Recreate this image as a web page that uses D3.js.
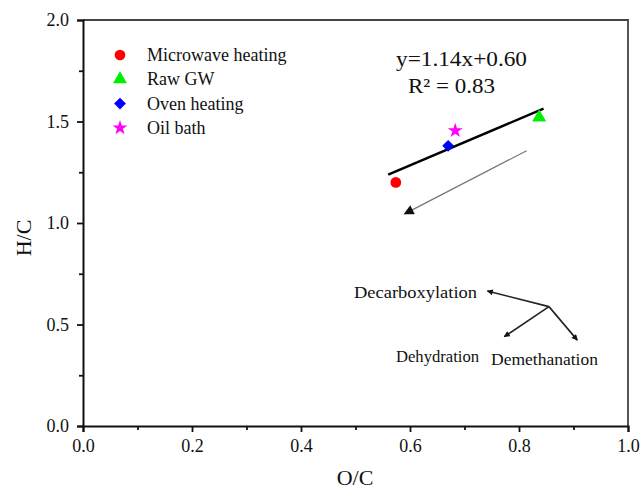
<!DOCTYPE html>
<html>
<head>
<meta charset="utf-8">
<script src="https://cdn.jsdelivr.net/npm/d3@7"></script>
<style>
  body { margin: 0; background: #fff; }
  svg text { font-family: "Liberation Serif", "DejaVu Serif", serif; fill: #111; }
</style>
</head>
<body>
<svg id="chart" width="642" height="496"></svg>
<script>
// samples (O/C, H/C)
var sampleNames = ["Microwave heating", "Raw GW", "Oven heating", "Oil bath"];
var sampleOC = [0.574, 0.837, 0.670, 0.683];
var sampleHC = [1.20, 1.52, 1.38, 1.455];
var sampleColors = ["#ff0000", "#00ee00", "#0000ff", "#ff00ff"];

// linear fit
var fitSlope = 1.14, fitIntercept = 0.60;
var fitRange = [0.56, 0.845];

// trend arrow (from, to)
var trendOC = [0.814, 0.59];
var trendHC = [1.356, 1.045];

// reaction arrows: centre and three ends
var reactCenter = [0.855, 0.588];
var reactEnds = [[0.742, 0.665], [0.773, 0.44], [0.907, 0.423]];

var xTicks = [0, 0.2, 0.4, 0.6, 0.8, 1.0];
var yTicks = [0, 0.5, 1.0, 1.5, 2.0];

var serif = "Liberation Serif";
var svg = d3.select("#chart").attr("font-family", serif);
var mLeft = 83, mRight = 628, mTop = 20, mBottom = 426;

var x = d3.scaleLinear().domain([0, 1]).range([mLeft, mRight]);
var y = d3.scaleLinear().domain([0, 2]).range([mBottom, mTop]);

// symbol generators; diamond = square turned 45deg
var shapes = [
  { type: d3.symbolCircle, size: 90, rot: 0 },
  { type: d3.symbolTriangle, size: 85, rot: 0 },
  { type: d3.symbolSquare, size: 70, rot: 45 },
  { type: d3.symbolStar, size: 70, rot: 0 }
];
function drawSymbol(g, i, cx, cy) {
  g.append("path")
    .attr("d", d3.symbol().type(shapes[i].type).size(shapes[i].size)())
    .attr("transform", "translate(" + cx + "," + cy + ") rotate(" + shapes[i].rot + ")")
    .attr("fill", sampleColors[i]);
}
function label(g, tx, ty, size, str) {
  return g.append("text").attr("x", tx).attr("y", ty)
    .attr("font-family", serif).attr("font-size", size).text(str);
}

var defs = svg.append("defs");
defs.append("marker")
  .attr("id", "head").attr("viewBox", "0 0 10 10")
  .attr("refX", 9).attr("refY", 5)
  .attr("markerWidth", 7).attr("markerHeight", 6)
  .attr("markerUnits", "userSpaceOnUse")
  .attr("orient", "auto")
  .append("path").attr("d", "M0,0 L10,5 L0,10 Z").attr("fill", "#111");
defs.append("marker")
  .attr("id", "bighead").attr("viewBox", "0 0 10 10")
  .attr("refX", 9).attr("refY", 5)
  .attr("markerWidth", 12).attr("markerHeight", 10)
  .attr("markerUnits", "userSpaceOnUse")
  .attr("orient", "auto")
  .append("path").attr("d", "M0,0 L10,5 L0,10 Z").attr("fill", "#111");

// frame top/right
svg.append("path")
  .attr("d", "M" + mLeft + "," + mTop + "H" + mRight + "V" + mBottom)
  .attr("fill", "none").attr("stroke", "#444").attr("stroke-width", 1.8);

// axes
var xAxis = svg.append("g").attr("transform", "translate(0," + mBottom + ")")
  .call(d3.axisBottom(x).tickValues(xTicks).tickFormat(d3.format(".1f")).tickSize(6).tickPadding(7));
var xMinor = svg.append("g").attr("transform", "translate(0," + mBottom + ")")
  .call(d3.axisBottom(x).tickValues([0.1, 0.3, 0.5, 0.7, 0.9]).tickFormat("").tickSize(4));
var yAxis = svg.append("g").attr("transform", "translate(" + mLeft + ",0)")
  .call(d3.axisLeft(y).tickValues(yTicks).tickFormat(d3.format(".1f")).tickSize(6).tickPadding(8));
var yMinor = svg.append("g").attr("transform", "translate(" + mLeft + ",0)")
  .call(d3.axisLeft(y).tickValues([0.25, 0.75, 1.25, 1.75]).tickFormat("").tickSize(4));

[xAxis, xMinor, yAxis, yMinor].forEach(function(g) {
  g.attr("font-family", serif);
  g.select(".domain").attr("stroke", "#111").attr("stroke-width", 2);
  g.selectAll(".tick line").attr("stroke", "#111").attr("stroke-width", 1.8);
  g.selectAll(".tick text").attr("font-size", 18).attr("font-family", serif).attr("fill", "#111");
});
xMinor.select(".domain").remove();
yMinor.select(".domain").remove();

// axis titles
label(svg, 355, 485, 22, "O/C").attr("text-anchor", "middle");
svg.append("text").attr("transform", "translate(31,238) rotate(-90)")
  .attr("text-anchor", "middle").attr("font-family", serif).attr("font-size", 22).text("H/C");

// fit line
svg.append("line")
  .attr("x1", x(fitRange[0])).attr("y1", y(fitSlope * fitRange[0] + fitIntercept))
  .attr("x2", x(fitRange[1])).attr("y2", y(fitSlope * fitRange[1] + fitIntercept))
  .attr("stroke", "#000").attr("stroke-width", 2.5);

label(svg, 396, 66, 21, "y=" + fitSlope.toFixed(2) + "x+" + fitIntercept.toFixed(2))
  .attr("textLength", 131).attr("lengthAdjust", "spacingAndGlyphs");
label(svg, 408, 93, 21, "R\u00b2 = 0.83")
  .attr("textLength", 87).attr("lengthAdjust", "spacingAndGlyphs");

// trend arrow
svg.append("line")
  .attr("x1", x(trendOC[0])).attr("y1", y(trendHC[0]))
  .attr("x2", x(trendOC[1])).attr("y2", y(trendHC[1]))
  .attr("stroke", "#777").attr("stroke-width", 1.3)
  .attr("marker-end", "url(#bighead)");

// reaction arrows
reactEnds.forEach(function(e) {
  svg.append("line")
    .attr("x1", x(reactCenter[0])).attr("y1", y(reactCenter[1]))
    .attr("x2", x(e[0])).attr("y2", y(e[1]))
    .attr("stroke", "#222").attr("stroke-width", 1.6)
    .attr("marker-end", "url(#head)");
});
label(svg, 354, 298, 16, "Decarboxylation")
  .attr("textLength", 123).attr("lengthAdjust", "spacingAndGlyphs");
label(svg, 396, 362, 16, "Dehydration")
  .attr("textLength", 83).attr("lengthAdjust", "spacingAndGlyphs");
label(svg, 491, 365, 16, "Demethanation")
  .attr("textLength", 107).attr("lengthAdjust", "spacingAndGlyphs");

// points
var pts = svg.append("g");
sampleNames.forEach(function(n, i) {
  drawSymbol(pts, i, x(sampleOC[i]), y(sampleHC[i]));
});

// legend
var legend = svg.append("g");
sampleNames.forEach(function(n, i) {
  var ly = 55 + i * 24.3;
  drawSymbol(legend, i, 120, ly);
  label(legend, 147, ly + 6, 18, n);
});
</script>
</body>
</html>
